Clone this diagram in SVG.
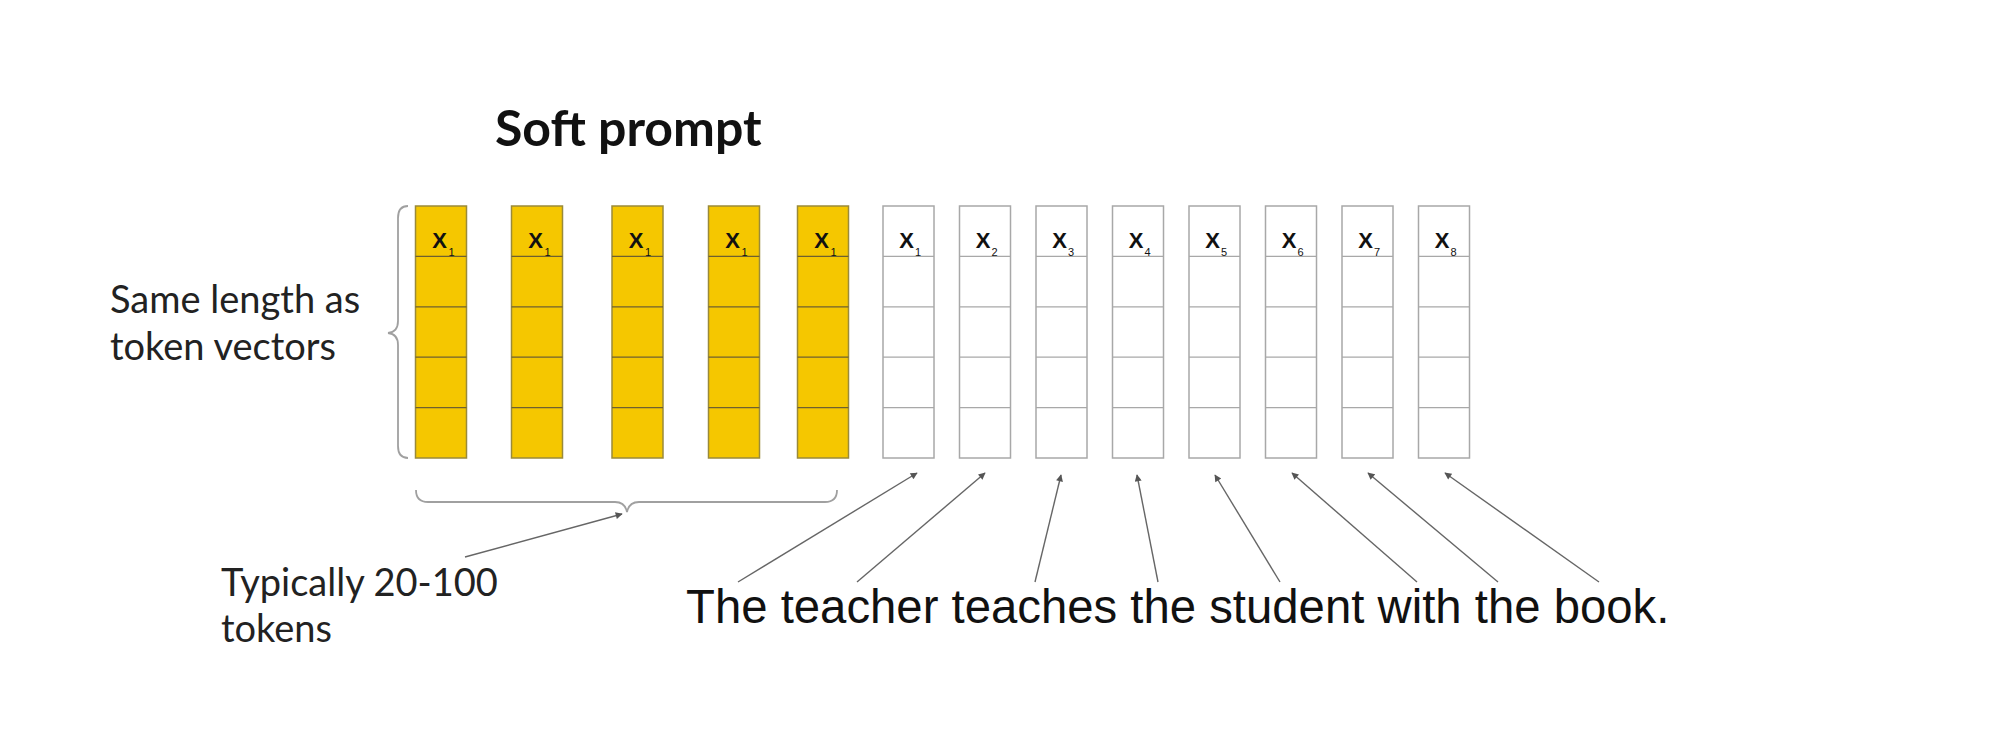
<svg xmlns="http://www.w3.org/2000/svg" width="2000" height="742" viewBox="0 0 2000 742">
<defs>
<style>
.lato{font-family:Lato,"Noto Sans",sans-serif;fill:#222}
.title{font-size:50px;font-weight:bold;fill:#111}
.lbl{font-size:38px}
.sent{font-family:"Liberation Sans",Arial,sans-serif;font-size:47.3px;fill:#111}
.ycol{fill:#F5C700;stroke:#9a8a3a;stroke-width:1.5}
.wcol{fill:#fff;stroke:#a8a8a8;stroke-width:1.5}
.yline{stroke:#6e6030;stroke-width:1.3}
.wline{stroke:#a8a8a8;stroke-width:1.3}
.x{font-family:"Liberation Sans",Arial,sans-serif;font-size:22px;font-weight:bold;fill:#111;text-anchor:middle}
.sub{font-family:"Liberation Sans",Arial,sans-serif;font-size:11px;fill:#111}
.brace{fill:none;stroke:#a0a0a0;stroke-width:1.8}
.arr{fill:none;stroke:#666;stroke-width:1.4;marker-end:url(#ah)}
</style>
<marker id="ah" viewBox="0 0 10 10" refX="9" refY="5" markerWidth="9" markerHeight="7" markerUnits="userSpaceOnUse" orient="auto">
<path d="M0,0 L10,5 L0,10 z" fill="#555"/>
</marker>
<g id="rows">
<line class="yline" x1="0" y1="50.4" x2="51" y2="50.4"/>
<line class="yline" x1="0" y1="100.8" x2="51" y2="100.8"/>
<line class="yline" x1="0" y1="151.2" x2="51" y2="151.2"/>
<line class="yline" x1="0" y1="201.6" x2="51" y2="201.6"/>
</g>
<g id="wrows">
<line class="wline" x1="0" y1="50.4" x2="51" y2="50.4"/>
<line class="wline" x1="0" y1="100.8" x2="51" y2="100.8"/>
<line class="wline" x1="0" y1="151.2" x2="51" y2="151.2"/>
<line class="wline" x1="0" y1="201.6" x2="51" y2="201.6"/>
</g>
</defs>
<rect width="2000" height="742" fill="#fff"/>

<text class="lato title" x="495" y="146">Soft prompt</text>

<g id="label-length">
<text class="lato lbl" x="110" y="313">Same length as</text>
<text class="lato lbl" x="110" y="360">token vectors</text>
</g>
<g id="label-typically">
<text class="lato lbl" x="221" y="596">Typically 20-100</text>
<text class="lato lbl" x="221" y="642">tokens</text>
</g>

<g id="soft-1" transform="translate(415.5,206)"><rect class="ycol" width="51" height="252"/><use href="#rows"/><text class="x" x="24" y="42">X</text><text class="sub" x="33" y="50">1</text></g>
<g id="soft-2" transform="translate(511.5,206)"><rect class="ycol" width="51" height="252"/><use href="#rows"/><text class="x" x="24" y="42">X</text><text class="sub" x="33" y="50">1</text></g>
<g id="soft-3" transform="translate(612,206)"><rect class="ycol" width="51" height="252"/><use href="#rows"/><text class="x" x="24" y="42">X</text><text class="sub" x="33" y="50">1</text></g>
<g id="soft-4" transform="translate(708.5,206)"><rect class="ycol" width="51" height="252"/><use href="#rows"/><text class="x" x="24" y="42">X</text><text class="sub" x="33" y="50">1</text></g>
<g id="soft-5" transform="translate(797.5,206)"><rect class="ycol" width="51" height="252"/><use href="#rows"/><text class="x" x="24" y="42">X</text><text class="sub" x="33" y="50">1</text></g>

<g id="tok-1" transform="translate(883,206)"><rect class="wcol" width="51" height="252"/><use href="#wrows"/><text class="x" x="23.5" y="42">X</text><text class="sub" x="32" y="50">1</text></g>
<g id="tok-2" transform="translate(959.5,206)"><rect class="wcol" width="51" height="252"/><use href="#wrows"/><text class="x" x="23.5" y="42">X</text><text class="sub" x="32" y="50">2</text></g>
<g id="tok-3" transform="translate(1036,206)"><rect class="wcol" width="51" height="252"/><use href="#wrows"/><text class="x" x="23.5" y="42">X</text><text class="sub" x="32" y="50">3</text></g>
<g id="tok-4" transform="translate(1112.5,206)"><rect class="wcol" width="51" height="252"/><use href="#wrows"/><text class="x" x="23.5" y="42">X</text><text class="sub" x="32" y="50">4</text></g>
<g id="tok-5" transform="translate(1189,206)"><rect class="wcol" width="51" height="252"/><use href="#wrows"/><text class="x" x="23.5" y="42">X</text><text class="sub" x="32" y="50">5</text></g>
<g id="tok-6" transform="translate(1265.5,206)"><rect class="wcol" width="51" height="252"/><use href="#wrows"/><text class="x" x="23.5" y="42">X</text><text class="sub" x="32" y="50">6</text></g>
<g id="tok-7" transform="translate(1342,206)"><rect class="wcol" width="51" height="252"/><use href="#wrows"/><text class="x" x="23.5" y="42">X</text><text class="sub" x="32" y="50">7</text></g>
<g id="tok-8" transform="translate(1418.5,206)"><rect class="wcol" width="51" height="252"/><use href="#wrows"/><text class="x" x="23.5" y="42">X</text><text class="sub" x="32" y="50">8</text></g>

<g id="braces">
<path class="brace" d="M408,206 Q398,206 398,218 L398,321 Q398,332 388,333 Q398,334 398,345 L398,446 Q398,458 408,458"/>
<path class="brace" d="M416,490 Q416,502 428,502 L615,502 Q625,502 627,512 Q629,502 639,502 L825,502 Q837,502 837,490"/>
</g>

<text id="sentence" class="sent" x="686" y="623">The teacher teaches the student with the book.</text>

<g id="connectors">
<line class="arr" x1="465" y1="557" x2="622" y2="514"/>
<line class="arr" x1="738" y1="582" x2="917" y2="473"/>
<line class="arr" x1="857" y1="582" x2="985" y2="473"/>
<line class="arr" x1="1035" y1="582" x2="1061" y2="475"/>
<line class="arr" x1="1158" y1="582" x2="1137" y2="475"/>
<line class="arr" x1="1280" y1="582" x2="1215" y2="475"/>
<line class="arr" x1="1417" y1="582" x2="1292" y2="473"/>
<line class="arr" x1="1498" y1="582" x2="1368" y2="473"/>
<line class="arr" x1="1599" y1="582" x2="1445" y2="473"/>
</g>
</svg>
